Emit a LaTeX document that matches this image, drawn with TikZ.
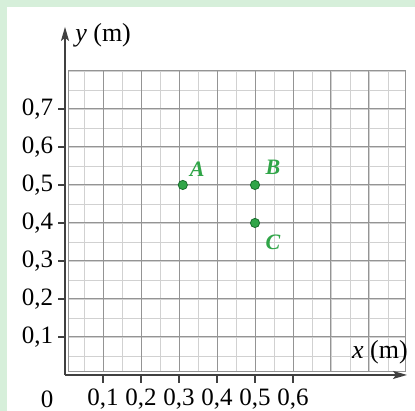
\documentclass[tikz,border=0pt]{standalone}
\usepackage{fontspec}
\setmainfont{Liberation Serif}
\usetikzlibrary{positioning,arrows.meta}
\definecolor{ptgreen}{RGB}{48,165,72}
\definecolor{ptdark}{RGB}{25,110,45}
\definecolor{bggreen}{RGB}{214,239,218}

\begin{document}
\begin{tikzpicture}[x=19pt, y=19pt, font=\fontsize{12.5}{14}\selectfont,
	axis/.style={draw=black!75, line width=0.8pt, -{Stealth[length=7pt,width=4pt,inset=1.5pt]}},
	minorgrid/.style={draw=black!18, line width=0.4pt},
	majorgrid/.style={draw=black!42, line width=0.5pt},
	axtick/.style={draw=black!75, line width=0.8pt},
	pt/.style={circle, draw=ptdark, fill=ptgreen, line width=0.4pt, inner sep=0pt, minimum size=4.6pt},
	ptlabel/.style={text=ptgreen, font=\fontsize{11}{13}\selectfont\bfseries\itshape, inner sep=0pt}]
	% Background
	\fill[white] (-1.711,-0.947) rectangle (9.211,9.868);
	\fill[bggreen] (-1.711,-0.947) rectangle (-1.526,9.868);
	\fill[bggreen] (-1.711,9.684) rectangle (9.211,9.868);
	\useasboundingbox (-1.711,-0.947) rectangle (9.211,9.868);
	% Grid
	\draw[minorgrid, step=0.5] (0.08,0.08) grid (8.95,8);
	\draw[majorgrid, step=1] (0.08,0.08) grid (8.95,8);
	\draw[majorgrid] (0.08,0.08) rectangle (8.95,8);
	% Axes
	\coordinate (O) at (0,0);
	\coordinate (xend) at (9.0,0);
	\coordinate (yend) at (0,9.16);
	\draw[axis] (O) -- (xend);
	\draw[axis] (O) -- (yend);
	\node[anchor=west, inner sep=0pt, font=\fontsize{13}{15}\selectfont] (ylabel) at (0.26,8.95) {\textit{y} (m)};
	\node[anchor=east, inner sep=0pt, font=\fontsize{13}{15}\selectfont] (xlabel) at (9.03,0.6) {\textit{x} (m)};
	% Ticks
	\foreach \k in {1,...,7} {
		\draw[axtick] (-0.18,\k) -- (0,\k);
		\node[anchor=east, inner sep=0pt] (ylab\k) at (-0.3,\k) {0,\k};
	}
	\foreach \k in {1,...,6} {
		\draw[axtick] (\k,0) -- (\k,-0.2);
		\node[inner sep=0pt] (xlab\k) at (\k,-0.64) {0,\k};
	}
	\node[inner sep=0pt] (zero) at (-0.47,-0.64) {0};
	% Points
	\node[pt] (A) at (3.1,5) {};
	\node[pt] (B) at (5,5) {};
	\node[pt] (C) at (5,4) {};
	\node[ptlabel] (labA) at ([shift={(0.38,0.42)}]A) {A};
	\node[ptlabel] (labB) at ([shift={(0.47,0.47)}]B) {B};
	\node[ptlabel] (labC) at ([shift={(0.47,-0.5)}]C) {C};
\end{tikzpicture}
\end{document}
